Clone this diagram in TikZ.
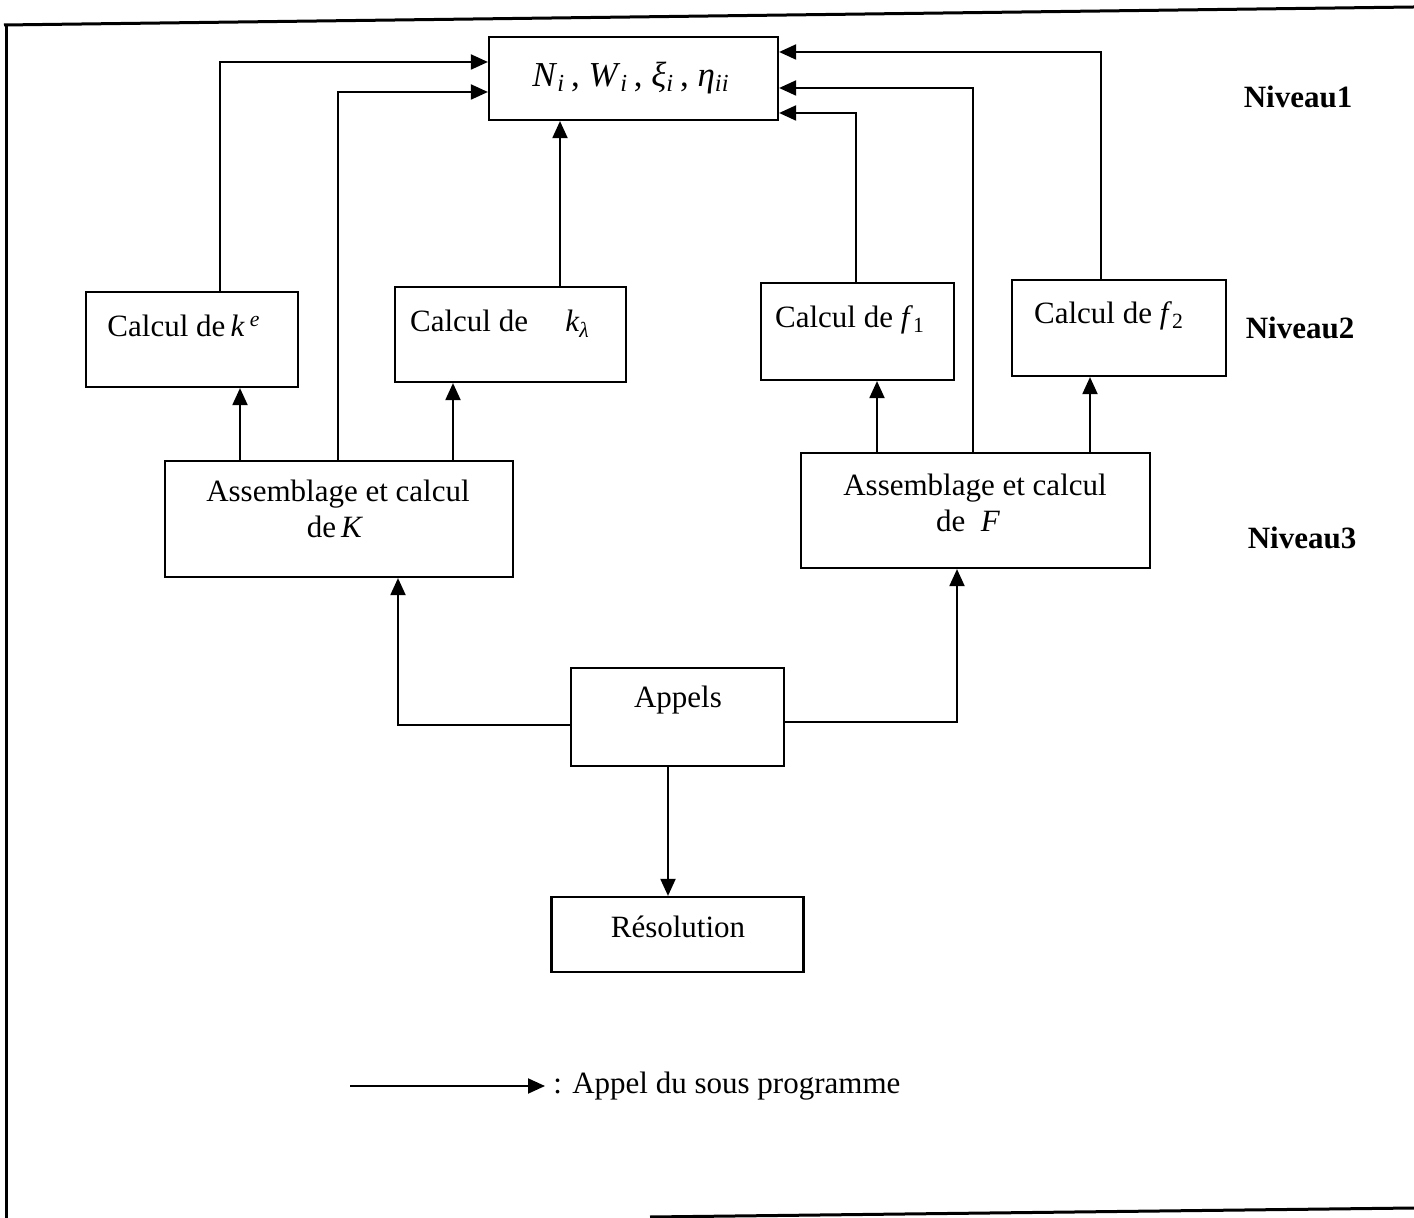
\documentclass[tikz,border=0pt]{standalone}
\usepackage{fontspec}
\setmainfont{Liberation Serif}
\usetikzlibrary{arrows.meta}
\newcommand\mvar[1]{\textit{#1}}
\newcommand\msub[1]{\textsubscript{\itshape #1}}
\newcommand\msubup[1]{\textsubscript{#1}}
\newcommand\msup[1]{\textsuperscript{\itshape #1}}
\tikzset{
  bx/.style={draw, line width=1.1pt, inner sep=0pt},
  txt/.style={inner sep=0pt, font=\fontsize{15.5}{18}\selectfont},
  lvl/.style={inner sep=0pt, font=\fontsize{15.5}{18}\selectfont\bfseries},
  arr/.style={line width=1pt, -{Triangle[length=8.5pt,width=7.5pt]}},
  frame/.style={line width=1.5pt}
}
\begin{document}
\begin{tikzpicture}[x=0.5pt,y=-0.5pt]
\useasboundingbox (0,0) rectangle (1414,1218);
% frame of the scanned page
\draw[frame] (4,25) -- (1414,7);
\draw[frame] (6,25) -- (6,1218);
\draw[frame] (650,1217) -- (1414,1208);

% boxes
\node[bx, minimum width=144.5pt, minimum height=41.5pt] (N)  at (633.5,78.5) {};
\node[bx, minimum width=106pt,   minimum height=47.5pt] (ke) at (192,339.5) {};
\node[bx, minimum width=115.5pt, minimum height=47.5pt] (kl) at (510.5,334.5) {};
\node[bx, minimum width=96.5pt,  minimum height=48.5pt] (f1) at (857.5,331.5) {};
\node[bx, minimum width=107pt,   minimum height=48pt]   (f2) at (1119,328) {};
\node[bx, minimum width=174pt,   minimum height=58pt]   (AK) at (339,519) {};
\node[bx, minimum width=174.5pt, minimum height=57.5pt] (AF) at (975.5,510.5) {};
\node[bx, minimum width=106.5pt, minimum height=49pt]   (Ap) at (677.5,717) {};
\node[bx, minimum width=126pt,   minimum height=37.5pt] (Re) at (677.5,934.5) {};

% texts
\node[txt, font=\fontsize{17.5}{20}\selectfont] (tN) at (631,78) {\mvar{N}\msub{i}\,, \mvar{W}\msub{i}\,, \mvar{ξ}\msub{i}\,, \mvar{η}\msub{ii}};
\node[txt, anchor=base] (tke) at (184,337) {Calcul de\,\mvar{k}\,\msup{e}};
\node[txt, anchor=base] (tkl) at (500,332) {Calcul de\hspace{1.2em}\mvar{k}\msub{λ}};
\node[txt, anchor=base] (tf1) at (850,328) {Calcul de \mvar{f}\msubup{1}};
\node[txt, anchor=base] (tf2) at (1109,324) {Calcul de \mvar{f}\msubup{2}};
\node[txt, anchor=base] (tAK1) at (338,502) {Assemblage et calcul};
\node[txt, anchor=base] (tAK2) at (335,538) {de\,\mvar{K}};
\node[txt, anchor=base] (tAF1) at (975,496) {Assemblage et calcul};
\node[txt, anchor=base] (tAF2) at (968,532) {de \ \mvar{F}};
\node[txt, anchor=base] (tAp) at (678,708) {Appels};
\node[txt, anchor=base] (tRe) at (678,937) {Résolution};
\node[lvl, anchor=base] (n1) at (1298,108) {Niveau1};
\node[lvl, anchor=base] (n2) at (1300,339) {Niveau2};
\node[lvl, anchor=base] (n3) at (1302,549) {Niveau3};

% connectors to level 1
\draw[arr] ([xshift=14pt]ke.north) |- ([yshift=8.25pt]N.west);
\draw[arr] ([xshift=-0.5pt]AK.north) |- ([yshift=-6.75pt]N.west);
\draw[arr] ([xshift=24.75pt]kl.north) -- ([xshift=-36.75pt]N.south);
\draw[arr] ([xshift=-0.75pt]f1.north) |- ([yshift=-17.25pt]N.east);
\draw[arr] ([xshift=-1.25pt]AF.north) |- ([yshift=-4.75pt]N.east);
\draw[arr] ([xshift=-9pt]f2.north) |- ([yshift=13.25pt]N.east);
% level 3 to level 2
\draw[arr] ([xshift=-49.5pt]AK.north) -- ([xshift=24pt]ke.south);
\draw[arr] ([xshift=57pt]AK.north) -- ([xshift=-28.75pt]kl.south);
\draw[arr] ([xshift=-49.25pt]AF.north) -- ([xshift=9.75pt]f1.south);
\draw[arr] ([xshift=57.25pt]AF.north) -- ([xshift=-14.5pt]f2.south);
% from Appels
\draw[arr] ([yshift=-4pt]Ap.west) -| ([xshift=29.5pt]AK.south);
\draw[arr] ([yshift=-2.5pt]Ap.east) -| ([xshift=-9.25pt]AF.south);
\draw[arr] ([xshift=-4.75pt]Ap.south) -- ([xshift=-4.75pt]Re.north);

% legend
\coordinate (la) at (350,1086);
\coordinate (lb) at (545,1086);
\draw[arr] (la) -- (lb);
\node[txt, anchor=base west] (lt) at (553,1093) {: Appel du sous programme};
\end{tikzpicture}
\end{document}
